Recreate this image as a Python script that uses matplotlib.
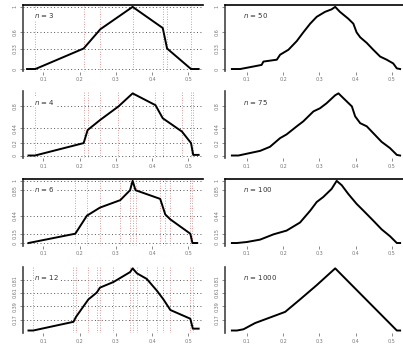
import numpy as np
import matplotlib
matplotlib.use('Agg')
import matplotlib.pyplot as plt

# left column: coarse piecewise-linear fits (knots)
left_labels = ['$n$ = 3', '$n$ = 4', '$n$ = 6', '$n$ = 12']
left_x = [
    [0.055, 0.078, 0.211, 0.257, 0.346, 0.429, 0.441, 0.507, 0.528],
    [0.059, 0.077, 0.211, 0.222, 0.256, 0.307, 0.346, 0.409, 0.429, 0.482, 0.507, 0.513, 0.528],
    [0.059, 0.188, 0.220, 0.256, 0.312, 0.339, 0.346, 0.354, 0.422, 0.436, 0.450, 0.505, 0.511, 0.524],
    [0.059, 0.072, 0.183, 0.190, 0.224, 0.247, 0.256, 0.293, 0.339, 0.346, 0.358, 0.385,
     0.413, 0.431, 0.450, 0.505, 0.512, 0.528],
]
left_y = [
    [0.0, 0.0, 0.33, 0.64, 1.0, 0.66, 0.33, 0.0, 0.0],
    [0.0, 0.0, 0.20, 0.41, 0.57, 0.79, 1.0, 0.81, 0.60, 0.385, 0.20, 0.01, 0.01],
    [0.0, 0.15, 0.44, 0.57, 0.69, 0.85, 1.0, 0.85, 0.71, 0.46, 0.38, 0.15, 0.0, 0.0],
    [0.0, 0.0, 0.14, 0.22, 0.50, 0.61, 0.69, 0.78, 0.94, 1.0, 0.92, 0.83,
     0.64, 0.50, 0.33, 0.19, 0.03, 0.03],
]
# horizontal reference levels / y ticks per row
row_levels = [
    [0.0, 0.33, 0.60, 1.0],
    [0.0, 0.20, 0.44, 0.80],
    [0.0, 0.15, 0.44, 0.85, 1.0],
    [0.17, 0.39, 0.61, 0.81],
]

# right column: fine fits
right_labels = ['$n$ = 50', '$n$ = 75', '$n$ = 100', '$n$ = 1000']
right_x = [
    [0.059, 0.082, 0.118, 0.141, 0.146, 0.183, 0.192, 0.215, 0.238, 0.256, 0.275, 0.293,
     0.316, 0.334, 0.344, 0.357, 0.380, 0.394, 0.403, 0.413, 0.431, 0.449, 0.468, 0.486,
     0.504, 0.514, 0.523],
    [0.059, 0.077, 0.109, 0.137, 0.164, 0.192, 0.210, 0.238, 0.256, 0.284, 0.302, 0.320,
     0.344, 0.353, 0.367, 0.390, 0.399, 0.413, 0.431, 0.449, 0.472, 0.495, 0.514, 0.523],
    [0.059, 0.073, 0.100, 0.137, 0.174, 0.210, 0.247, 0.275, 0.293, 0.311, 0.334, 0.348,
     0.362, 0.380, 0.403, 0.422, 0.449, 0.472, 0.495, 0.514, 0.523],
    [0.059, 0.073, 0.091, 0.123, 0.206, 0.247, 0.293, 0.344, 0.514, 0.523],
]
right_y = [
    [0.0, 0.0, 0.04, 0.066, 0.12, 0.15, 0.23, 0.31, 0.45, 0.59, 0.73, 0.84,
     0.92, 0.96, 1.0, 0.92, 0.81, 0.73, 0.59, 0.51, 0.42, 0.31, 0.20, 0.15,
     0.09, 0.01, 0.0],
    [0.0, 0.0, 0.04, 0.075, 0.14, 0.28, 0.34, 0.47, 0.55, 0.71, 0.76, 0.84,
     0.97, 1.0, 0.92, 0.79, 0.63, 0.52, 0.47, 0.36, 0.22, 0.12, 0.01, 0.0],
    [0.0, 0.0, 0.016, 0.055, 0.14, 0.20, 0.33, 0.52, 0.66, 0.74, 0.87, 1.0,
     0.93, 0.79, 0.63, 0.52, 0.36, 0.22, 0.11, 0.0, 0.0],
    [0.0, 0.0, 0.02, 0.12, 0.30, 0.50, 0.73, 1.0, 0.0, 0.0],
]
xticks = [0.1, 0.2, 0.3, 0.4, 0.5]

fig = plt.figure(figsize=(4.03, 3.45), dpi=100)
W, H = 403.0, 345.0
tops = [5, 91.5, 179, 266.5]
ah = 66.5

def style(ax, row, xlim):
    ax.set_xlim(*xlim)
    ax.set_ylim(-0.04, 1.03)
    for s in ['right', 'bottom']:
        ax.spines[s].set_visible(False)
    ax.spines['left'].set_color('#444444')
    ax.spines['left'].set_linewidth(1.2)
    if row in (0, 2):
        ax.spines['top'].set_linewidth(1.2)
    else:
        ax.spines['top'].set_visible(False)
    ax.set_xticks(xticks)
    ax.set_xticklabels(['%.1f' % t for t in xticks])
    ax.set_yticks(row_levels[row])
    ax.set_yticklabels(['%.2g' % v for v in row_levels[row]], rotation=90, va='center')
    ax.tick_params(labelsize=3.5, colors='#777777', length=2, width=0.6, pad=2)

for r in range(4):
    y0 = 1 - (tops[r] + ah) / H
    axl = fig.add_axes([22.7 / W, y0, (203 - 22.7) / W, ah / H])
    axr = fig.add_axes([225 / W, y0, (403 - 225) / W, ah / H])

    # left: piecewise fit with reference lines at knots
    for lv in row_levels[r]:
        axl.axhline(lv, color='#555555', ls=(0, (1, 2.5)), lw=0.7, zorder=1)
    for kx in left_x[r][1:-1]:
        axl.axvline(kx, color='#d47a7a', ls=(0, (1, 2)), lw=0.6, zorder=1)
    axl.plot(left_x[r], left_y[r], color='black', lw=1.4, zorder=3)
    axl.text(0.075, 0.82, left_labels[r], fontsize=5, color='#333333', zorder=4,
             bbox=dict(facecolor='white', edgecolor='none', pad=0.5))
    style(axl, r, (0.043, 0.54))

    axr.plot(right_x[r], right_y[r], color='black', lw=1.4, zorder=3)
    axr.text(0.09, 0.82, right_labels[r], fontsize=5, color='#333333')
    style(axr, r, (0.04, 0.531))

fig.savefig('out.png', dpi=100)
